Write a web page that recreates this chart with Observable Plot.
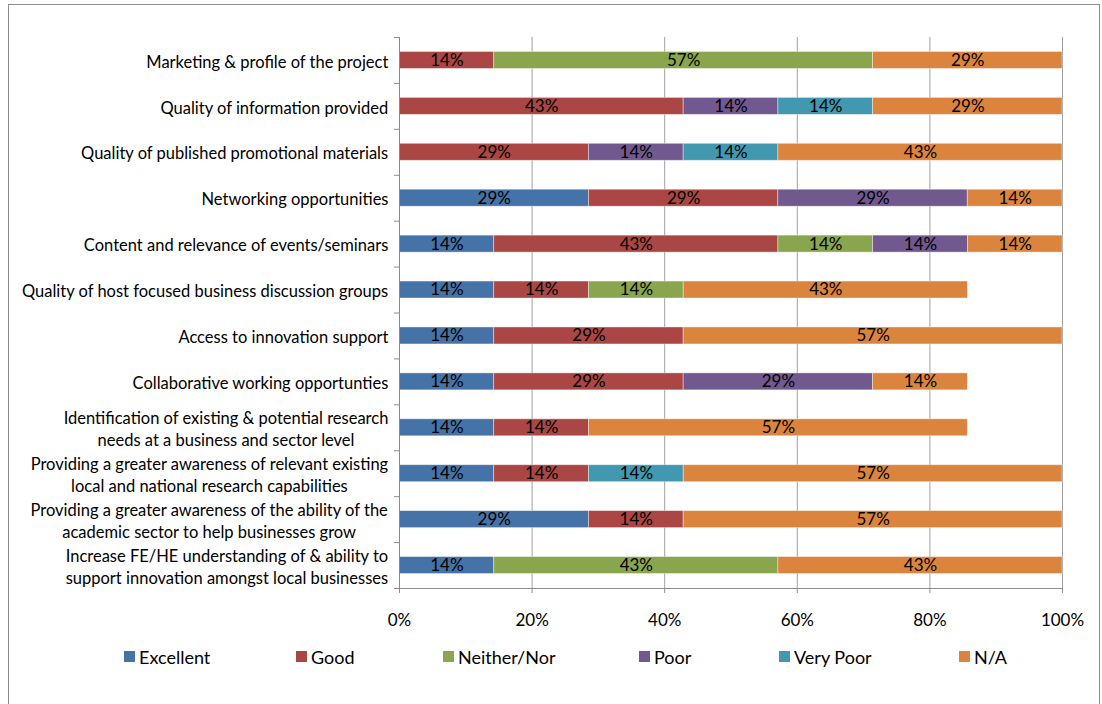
<!DOCTYPE html>
<html>
<head>
<meta charset="utf-8">
<script src="https://cdn.jsdelivr.net/npm/d3@7"></script>
<script src="https://cdn.jsdelivr.net/npm/@observablehq/plot@0.6"></script>
<style>
  html, body { margin: 0; padding: 0; background: #fff; overflow: hidden; }
  #frame { position: absolute; left: 8px; top: 4px; width: 1090px; height: 740px; border: 1.5px solid #8c8c8c; }
  #chart { position: absolute; left: 0; top: 0; width: 1102px; }
</style>
</head>
<body>
<div id="frame"></div>
<div id="chart"></div>
<script>
const categories = [
  "Marketing & profile of the project",
  "Quality of information provided",
  "Quality of published promotional materials",
  "Networking opportunities",
  "Content and relevance of events/seminars",
  "Quality of host focused business discussion groups",
  "Access to innovation support",
  "Collaborative working opportunties",
  "Identification of existing & potential research\nneeds at a business and sector level",
  "Providing a greater awareness of relevant existing\nlocal and national research capabilities",
  "Providing a greater awareness of the ability of the\nacademic sector to help businesses grow",
  "Increase FE/HE understanding of & ability to\nsupport innovation amongst local businesses"
];
const ratings = ["Excellent", "Good", "Neither/Nor", "Poor", "Very Poor", "N/A"];
const colors = ["#4572A7", "#AA4643", "#89A54E", "#71588F", "#4198AF", "#DB843D"];

// percentages per rating, one value per category (same order as categories)
const excellent = [0, 0, 0, 28.57, 14.29, 14.29, 14.29, 14.29, 14.29, 14.29, 28.57, 14.29];
const good      = [14.29, 42.86, 28.57, 28.57, 42.86, 14.29, 28.57, 28.57, 14.29, 14.29, 14.29, 0];
const neither   = [57.14, 0, 0, 0, 14.29, 14.29, 0, 0, 0, 0, 0, 42.86];
const poor      = [0, 14.29, 14.29, 28.57, 14.29, 0, 0, 28.57, 0, 0, 0, 0];
const veryPoor  = [0, 14.29, 14.29, 0, 0, 0, 0, 0, 0, 14.29, 0, 0];
const na        = [28.57, 28.57, 42.86, 14.29, 14.29, 42.86, 57.14, 14.29, 57.14, 57.14, 57.14, 42.86];
const xTicks = [0, 20, 40, 60, 80, 100];

const series = [excellent, good, neither, poor, veryPoor, na];
const rows = [];
categories.forEach((c, i) => {
  ratings.forEach((r, j) => {
    const v = series[j][i];
    if (v > 0) rows.push({category: c, rating: r, value: v});
  });
});

const W = 1102, H = 640, mL = 399, mR = 40, mT = 37, mB = 52;
const step = (H - mT - mB) / categories.length;
const FONT = "Lato, 'Open Sans', sans-serif";
const labelSize = 16.5;

const ctx = document.createElement("canvas").getContext("2d");
ctx.font = `${labelSize}px Lato`;
const labelMarks = categories.map(c => {
  const w = Math.max(...c.split("\n").map(l => ctx.measureText(l).width));
  return Plot.text([c], {
    y: d => d, frameAnchor: "left", textAnchor: "middle", lineAnchor: "middle",
    lineHeight: 1.35, dx: -(11 + w / 2), fontSize: labelSize, fill: "#000"
  });
});

const gray = "#8c8c8c";
const chart = Plot.plot({
  width: W, height: H,
  marginLeft: mL, marginRight: mR, marginTop: mT, marginBottom: mB,
  style: {fontFamily: FONT, fontSize: "15px", color: "#000", background: "transparent"},
  x: {domain: [0, 100]},
  y: {domain: categories, paddingInner: 0.63, paddingOuter: 0.315, round: false},
  color: {domain: ratings, range: colors},
  marks: [
    Plot.gridX({ticks: xTicks.slice(1), stroke: "#a0a0a0", strokeOpacity: 1}),
    Plot.barX(rows, Plot.stackX({x: "value", y: "category", fill: "rating", order: ratings,
      stroke: "#fff", strokeWidth: 0.8, strokeOpacity: 0.5})),
    Plot.text(rows, Plot.stackX({x: "value", y: "category", z: "rating", order: ratings,
      text: d => Math.round(d.value) + "%", fontSize: 17, fill: "#000"})),
    Plot.ruleX([0], {stroke: gray}),
    Plot.ruleY([categories[categories.length - 1]], {dy: step / 2, stroke: gray}),
    Plot.axisY({tickSize: 5, tickFormat: () => "", dy: -step / 2, stroke: gray, label: null}),
    Plot.axisY({ticks: [categories[categories.length - 1]], tickSize: 5, tickFormat: () => "", dy: step / 2, stroke: gray, label: null}),
    Plot.axisX({ticks: xTicks, tickSize: 5, tickPadding: 20, tickFormat: d => d + "%", fontSize: 17, stroke: gray, fill: "#000", label: null}),
    ...labelMarks
  ]
});

const legend = Plot.legend({color: {domain: ratings, range: colors}, swatchSize: 11});
legend.style.fontFamily = FONT;
legend.style.fontSize = "18px";
legend.style.color = "#000";
legend.style.position = "relative";
legend.style.height = "33px";
legend.style.marginLeft = "124px";
// horizontal offsets of legend entries (layout only)
const itemOffsets = [0, 172, 319, 515, 655, 835];
legend.querySelectorAll(":scope > span").forEach((s, i) => {
  s.style.position = "absolute";
  s.style.left = itemOffsets[i] + "px";
  s.style.top = "0";
  s.style.height = "33px";
  s.style.marginRight = "0";
  s.style.whiteSpace = "nowrap";
});
legend.querySelectorAll("svg").forEach(s => { s.style.marginRight = "4px"; });

const holder = document.getElementById("chart");
holder.appendChild(chart);
holder.appendChild(legend);
</script>
</body>
</html>
